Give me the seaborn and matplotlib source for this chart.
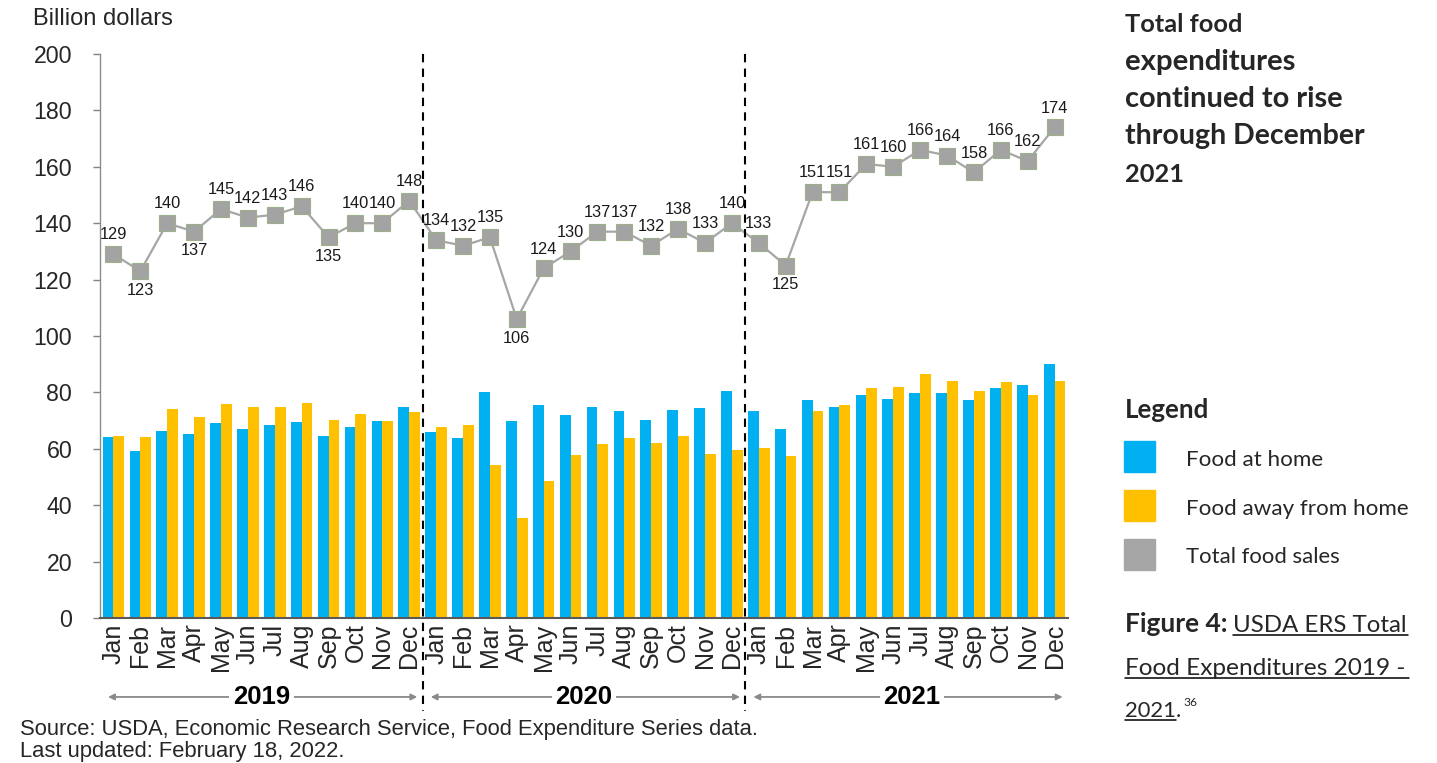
import numpy as np
import pandas as pd
import matplotlib
matplotlib.use("Agg")
import matplotlib.pyplot as plt
import seaborn as sns
from matplotlib.patches import Rectangle
from matplotlib.lines import Line2D
import matplotlib.transforms as mtransforms

# ---------------- data ----------------
months = ["Jan", "Feb", "Mar", "Apr", "May", "Jun", "Jul", "Aug", "Sep", "Oct", "Nov", "Dec"]
years = ["2019", "2020", "2021"]

food_at_home = [64.3, 59.1, 66.4, 65.2, 69.2, 67.0, 68.3, 69.6, 64.4, 67.7, 69.9, 74.9,
                65.8, 63.7, 80.2, 69.9, 75.4, 72.0, 74.9, 73.4, 70.3, 73.7, 74.3, 80.5,
                73.3, 67.1, 77.4, 75.0, 79.2, 77.8, 79.9, 79.9, 77.4, 81.7, 82.7, 90.1]
food_away = [64.6, 64.3, 74.0, 71.4, 76.0, 74.8, 75.0, 76.2, 70.2, 72.3, 69.8, 73.1,
             67.7, 68.3, 54.3, 35.6, 48.5, 57.9, 61.8, 63.8, 61.9, 64.6, 58.2, 59.5,
             60.2, 57.6, 73.3, 75.6, 81.5, 82.0, 86.5, 84.0, 80.4, 83.8, 79.2, 84.0]
total_sales = [129, 123, 140, 137, 145, 142, 143, 146, 135, 140, 140, 148,
               134, 132, 135, 106, 124, 130, 137, 137, 132, 138, 133, 140,
               133, 125, 151, 151, 161, 160, 166, 164, 158, 166, 162, 174]
# label placement for total labels: 'a' above, 'b' below
label_pos = ["a", "b", "a", "b", "a", "a", "a", "a", "b", "a", "a", "a",
             "a", "a", "a", "b", "a", "a", "a", "a", "a", "a", "a", "a",
             "a", "b", "a", "a", "a", "a", "a", "a", "a", "a", "a", "a"]
series_names = ["Food at home", "Food away from home", "Total food sales"]

BLUE = "#00B0F0"
YELLOW = "#FFC000"
GREY = "#A6A6A6"

n = len(total_sales)
idx = np.arange(n)
df = pd.DataFrame({
    "idx": np.concatenate([idx, idx]),
    "value": food_at_home + food_away,
    "series": [series_names[0]] * n + [series_names[1]] * n,
})

W, H = 1437, 763
fig = plt.figure(figsize=(W / 100, H / 100), dpi=100)
sns.set_style("white")
plt.rcParams["font.family"] = ["Liberation Sans", "DejaVu Sans"]

def fx(px):
    return px / W

def fy(py):
    return 1 - py / H

ax = fig.add_axes([fx(100), fy(618), fx(1068) - fx(100), fy(54) - fy(618)])

sns.barplot(data=df, x="idx", y="value", hue="series", palette=[BLUE, YELLOW],
            width=0.8, saturation=1, ax=ax, legend=False, errorbar=None,
            linewidth=0)
sns.lineplot(x=idx, y=total_sales, ax=ax, color=GREY, linewidth=1.6, sort=False,
             marker="s", markersize=11, markerfacecolor="#A3A3A3",
             markeredgecolor="#9DB08E", markeredgewidth=0.8, zorder=5)

for i, (v, p) in enumerate(zip(total_sales, label_pos)):
    off = 8.5 if p == "a" else -8.5
    ax.annotate(str(v), (i, v), xytext=(0, off), textcoords="offset points",
                ha="center", va="bottom" if p == "a" else "top",
                fontsize=11.8, color="#1a1a1a", zorder=6)

ax.set_xlim(-0.5, n - 0.5)
ax.set_ylim(0, 200)
ax.set_yticks(np.arange(0, 201, 20))
ax.tick_params(axis="y", labelsize=16.7, length=5, width=1, color="#808080",
               direction="out", left=True, pad=15)
ax.set_xticks(idx)
ax.set_xticklabels(months * 3, rotation=90, fontsize=18)
ax.tick_params(axis="x", length=0, pad=4)
ax.set_xlabel("")
ax.set_ylabel("")
for s in ["top", "right"]:
    ax.spines[s].set_visible(False)
ax.spines["left"].set_color("#8c8c8c")
ax.spines["left"].set_linewidth(1.0)
ax.spines["bottom"].set_color("#595959")
ax.spines["bottom"].set_linewidth(1.5)
ax.grid(False)

trans = mtransforms.blended_transform_factory(ax.transData, ax.transAxes)
# year dividers
for xd in [11.5, 23.5]:
    ax.plot([xd, xd], [1.0, -0.165], transform=trans, color="black",
            linestyle=(0, (4, 3)), linewidth=1.5, clip_on=False, zorder=7)

# year arrows and labels
y_arrow = -0.140
for k, yr in enumerate(years):
    start = k * 12
    ax.annotate("", xy=(start + 11.3, y_arrow), xytext=(start - 0.2, y_arrow),
                xycoords=trans, textcoords=trans,
                arrowprops=dict(arrowstyle="<|-|>", color="#8a8a8a", lw=1.3,
                                mutation_scale=9, shrinkA=0, shrinkB=0),
                annotation_clip=False)
    ax.text(start + 5.5 + (0.2 if k == 2 else 0), y_arrow, yr, transform=trans,
            ha="center", va="center",
            fontsize=18.5, fontweight="bold", color="black",
            bbox=dict(boxstyle="square,pad=0.15", fc="white", ec="none"), zorder=8)

fig.text(fx(33), fy(19), "Billion dollars", fontsize=17, va="center", ha="left")
fig.text(fx(20), fy(730), "Source: USDA, Economic Research Service, Food Expenditure Series data.",
         fontsize=15.8, va="center", ha="left")
fig.text(fx(20), fy(752), "Last updated: February 18, 2022.",
         fontsize=15.8, va="center", ha="left")

# ---------------- right panel ----------------
RFONT = ["Lato", "DejaVu Sans"]
renderer = fig.canvas.get_renderer()

def fit_text(x, ybase, s, width_px, weight="normal", size0=16):
    t = fig.text(fx(x), fy(ybase), s, fontsize=size0, fontweight=weight,
                 family=RFONT, va="baseline", ha="left")
    bb = t.get_window_extent(renderer)
    t.set_fontsize(size0 * width_px / bb.width)
    return t

def underline(t, ybase, x_end=None):
    bb = t.get_window_extent(renderer)
    x1 = bb.x1 if x_end is None else x_end
    fig.add_artist(Line2D([bb.x0 / W, x1 / W], [fy(ybase + 3), fy(ybase + 3)],
                          color="black", lw=1.1, transform=fig.transFigure))

title_lines = ["Total food", "expenditures", "continued to rise", "through December", "2021"]
title_widths = [117, 171, 217, 239, 59]
title_base = [32, 70, 107, 144, 182]
for s, w, b in zip(title_lines, title_widths, title_base):
    fit_text(1125, b, s, w, weight="bold", size0=19)

fit_text(1125, 418, "Legend", 84, weight="bold", size0=19)
sq_colors = [BLUE, YELLOW, GREY]
sq_top = [441, 490, 539]
label_base = [466, 515, 563]
label_widths = [137, 222, 154]
for c, tp, lb, s, w in zip(sq_colors, sq_top, label_base, series_names, label_widths):
    fig.add_artist(Rectangle((fx(1124), fy(tp + 31)), 31 / W, 31 / H, color=c,
                             transform=fig.transFigure))
    fit_text(1186, lb, s, w, size0=16)

t_fig = fit_text(1125, 632, "Figure 4:", 103, weight="bold", size0=17)
t_a = fit_text(1233, 632, "USDA ERS Total", 173, size0=17)
underline(t_a, 632, x_end=1408)
t_b = fit_text(1125, 675, "Food Expenditures 2019 -", 280, size0=17)
underline(t_b, 675, x_end=1409)
t_c = fit_text(1125, 717, "2021", 51, size0=17)
underline(t_c, 717)
fig.text(fx(1176), fy(717), ".", fontsize=t_c.get_fontsize(), family=RFONT,
         va="baseline", ha="left")
fig.text(fx(1183), fy(706), "36", fontsize=t_c.get_fontsize() * 0.55, family=RFONT,
         va="baseline", ha="left")

fig.savefig("out.png", dpi=100, facecolor="white")
